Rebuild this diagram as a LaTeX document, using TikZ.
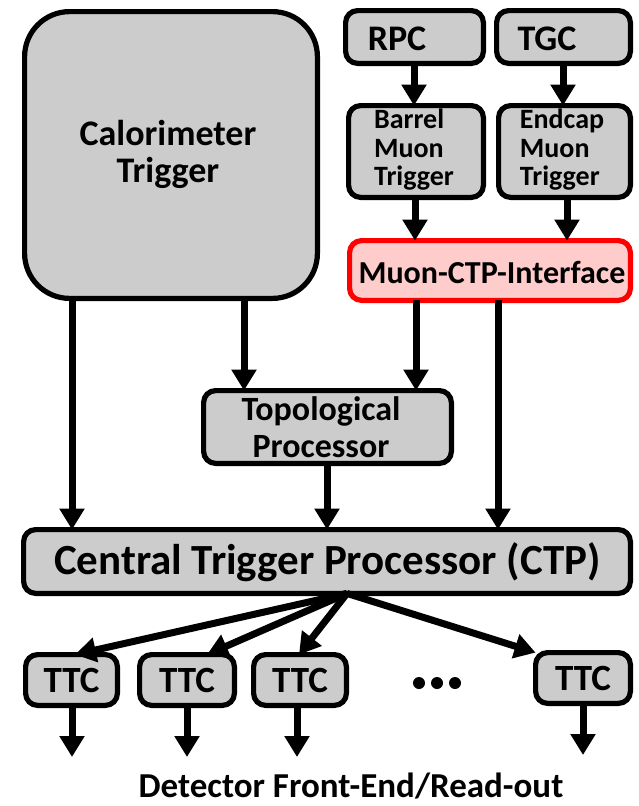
\documentclass[tikz,border=0pt]{standalone}
\usepackage{fontspec}
\setmainfont{Carlito}
\usetikzlibrary{arrows.meta}
\definecolor{boxgray}{HTML}{CCCCCC}
\definecolor{mcipink}{HTML}{FFCCCC}
\definecolor{mcired}{HTML}{FF0000}
\tikzset{
  box/.style={draw, line width=5.2pt, fill=boxgray, rounded corners=12pt,
    inner sep=0pt, outer sep=0pt, align=center},
  arr/.style={line width=7pt, -{Triangle[width=24pt,length=21pt]}},
  fs/.style 2 args={font=\fontsize{#1}{#2}\selectfont\bfseries}
}
\begin{document}
\begin{tikzpicture}[x=1pt,y=-1pt]
\useasboundingbox (0,0) rectangle (638,806);

% boxes
\node[box, rounded corners=45pt, minimum width=292.8pt, minimum height=286.8pt] (calo) at (171,155) {};
\node[fs={36}{37}, align=center, inner sep=0pt] (calotxt) at (168,154) {Calorimeter\\Trigger};

\node[box, minimum width=137.8pt, minimum height=52.8pt] (rpc) at (414.5,37) {};
\node[fs={36}{36}, anchor=base, inner sep=0pt] (rpctxt) at (397,50) {RPC};
\node[box, minimum width=133.8pt, minimum height=52.8pt] (tgc) at (563.5,37) {};
\node[fs={36}{36}, anchor=base, inner sep=0pt] (tgctxt) at (547,50) {TGC};

\node[box, minimum width=134.8pt, minimum height=91.8pt] (barrel) at (416,151.5) {};
\node[fs={28}{28.5}, align=left, inner sep=0pt] (barreltxt) at (414,150) {Barrel\\Muon\\Trigger};
\node[box, minimum width=131.8pt, minimum height=91.8pt] (endcap) at (564.5,151.5) {};
\node[fs={28}{28.5}, align=left, inner sep=0pt] (endcaptxt) at (562,150) {Endcap\\Muon\\Trigger};

\node[box, draw=mcired, fill=mcipink, minimum width=280.8pt, minimum height=59.8pt] (mci) at (490,270.5) {};
\node[fs={32}{32}, inner sep=0pt] (mcitxt) at (492,272) {Muon-CTP-Interface};

\node[box, minimum width=247.8pt, minimum height=72.8pt] (topo) at (327.5,427) {};
\node[fs={34}{37}, align=center, inner sep=0pt] (topotxt) at (321,427) {Topological\\Processor};

\node[box, minimum width=606.8pt, minimum height=63.8pt] (ctp) at (327,561.5) {};
\node[fs={43}{43}, inner sep=0pt] (ctptxt) at (327.5,562) {Central Trigger Processor (CTP)};

\node[box, minimum width=91.8pt, minimum height=50.8pt, fs={37}{37}] (ttc1) at (71.5,680) {TTC};
\node[box, minimum width=94.8pt, minimum height=50.8pt, fs={37}{37}] (ttc2) at (187,680) {TTC};
\node[box, minimum width=92.8pt, minimum height=50.8pt, fs={37}{37}] (ttc3) at (300,680) {TTC};
\node[box, minimum width=94.8pt, minimum height=50.8pt, fs={37}{37}] (ttc4) at (583,678) {TTC};

% ellipsis between the TTC boxes
\fill (419,683) circle (6) (437,683) circle (6) (455,683) circle (6);

\node[fs={35}{35}, anchor=base, inner sep=0pt] (fe) at (351,797) {Detector Front-End/Read-out};

% columns used by the vertical connectors
\coordinate (xA) at (72,0);
\coordinate (xB) at (244,0);
\coordinate (xC) at (416,0);
\coordinate (xD) at (498,0);
\coordinate (xE) at (327,0);
\coordinate (xR) at (414,0);
\coordinate (xT) at (563,0);
\coordinate (xBm) at (415,0);
\coordinate (xEm) at (567,0);
\coordinate (xF) at (347,0);

% muon chain
\draw[arr] (rpc.south -| xR) -- (barrel.north -| xR);
\draw[arr] (tgc.south -| xT) -- (endcap.north -| xT);
\draw[arr] (barrel.south -| xBm) -- (mci.north -| xBm);
\draw[arr] (endcap.south -| xEm) -- (mci.north -| xEm);

% into topological processor and CTP
\draw[arr] (calo.south -| xA) -- (ctp.north -| xA);
\draw[arr] (calo.south -| xB) -- (topo.north -| xB);
\draw[arr] (mci.south -| xC) -- (topo.north -| xC);
\draw[arr] (mci.south -| xD) -- (ctp.north -| xD);
\draw[arr] (topo.south -| xE) -- (ctp.north -| xE);

% CTP fan-out to the TTC partitions
\coordinate (t1) at (75,0);
\coordinate (t2) at (207,0);
\coordinate (t3) at (299,0);
\draw[arr] (ctp.south -| xF) -- (ttc1.north -| t1);
\draw[arr] (ctp.south -| xF) -- (ttc2.north -| t2);
\draw[arr] (ctp.south -| xF) -- (ttc3.north -| t3);
\draw[arr] (ctp.south -| xF) -- (ttc4.north west);

% TTC outputs
\coordinate (e1) at (72,757);
\coordinate (e2) at (187,757);
\coordinate (e3) at (297,757);
\coordinate (e4) at (583,755);
\draw[arr] (ttc1.south -| e1) -- (e1);
\draw[arr] (ttc2.south -| e2) -- (e2);
\draw[arr] (ttc3.south -| e3) -- (e3);
\draw[arr] (ttc4.south -| e4) -- (e4);
\end{tikzpicture}
\end{document}
